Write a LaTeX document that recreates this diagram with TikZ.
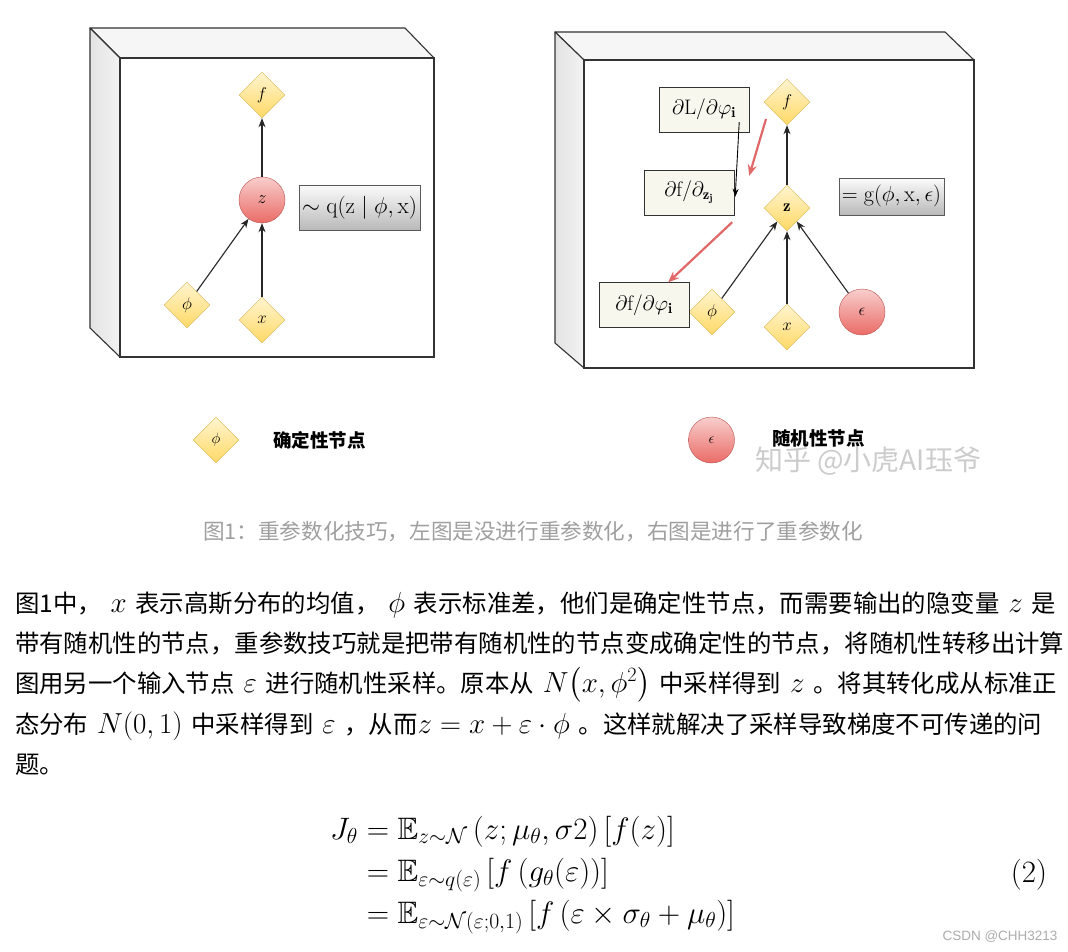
\RequirePackage{fix-cm}
\documentclass[tikz,border=0pt]{standalone}
\usepackage{amsmath,amssymb}
\usepackage{fontspec}
\newfontfamily\cjk{Noto Sans CJK SC}
\newfontfamily\latinsans{Liberation Sans}
\usetikzlibrary{shapes.geometric, positioning, arrows.meta, calc}

\definecolor{dettop}{HTML}{FFF4CF}
\definecolor{detbot}{HTML}{FFD966}
\definecolor{detline}{HTML}{D6B656}
\definecolor{randtop}{HTML}{F8CECC}
\definecolor{randbot}{HTML}{EA6B66}
\definecolor{randline}{HTML}{B85450}
\definecolor{gradfill}{HTML}{F8F7EE}
\definecolor{backred}{HTML}{E06868}
\definecolor{framecol}{HTML}{333333}

\newcommand{\zh}[1]{{\cjk\fontsize{24.4}{30}\selectfont #1}}

\begin{document}
\begin{tikzpicture}[
    x=1pt, y=-1pt,
    topface/.style={draw=framecol, fill=gray!7, line width=1.1pt, line join=round},
    sideface/.style={draw=framecol, left color=gray!22, right color=gray!10, line width=1.1pt, line join=round},
    frontface/.style={draw=framecol, fill=white, line width=1.1pt},
    detnode/.style={draw=detline, diamond, aspect=1, minimum width=46pt, minimum height=46pt, inner sep=0pt, top color=dettop, bottom color=detbot, font=\fontsize{17}{17}\selectfont},
    randnode/.style={draw=randline, circle, minimum size=46pt, inner sep=0pt, top color=randtop, bottom color=randbot, font=\fontsize{17}{17}\selectfont},
    distbox/.style={draw=gray!70!black, rectangle, inner sep=0pt, top color=gray!3, bottom color=gray!55},
    gradbox/.style={draw=black!80, rectangle, fill=gradfill, inner sep=0pt, minimum width=90pt, minimum height=45pt, font=\fontsize{21}{21}\selectfont},
    flow/.style={draw=black!85, line width=1.1pt, -{Stealth[length=9pt, width=7pt]}},
    thinflow/.style={draw=black, line width=0.9pt, -{Stealth[length=8pt, width=6pt]}},
    backflow/.style={draw=backred, line width=2.2pt, -{Stealth[length=11pt, width=9pt]}},
    para/.style={anchor=base west, inner sep=0pt, font=\fontsize{29}{30}\selectfont},
    eqline/.style={inner sep=0pt, font=\fontsize{31}{32}\selectfont}
]

    % ===============================
    % 0. CANVAS
    % ===============================
    \useasboundingbox (0,0) rectangle (1068,952);
    \fill[white] (0,0) rectangle (1068,952);

    % ===============================
    % 1. LEFT GRAPH (no reparameterization)
    % ===============================
    \draw[topface] (90,28) -- (405,28) -- (434,58) -- (120,58) -- cycle;
    \draw[sideface] (90,28) -- (120,58) -- (120,357) -- (90,328) -- cycle;
    \draw[frontface] (120,58) rectangle (434,357);

    \node[detnode] (f1) at (262,95) {$f$};
    \node[randnode, font=\fontsize{18}{18}\selectfont] (z1) at (262,200) {$z$};
    \node[detnode] (phi1) at (187,305) {$\phi$};
    \node[detnode] (x1) at (262,320) {$x$};
    \node[distbox, minimum width=121pt, minimum height=45pt, font=\fontsize{23}{23}\selectfont] (q1) at (359.5,207.5) {$\sim \mathrm{q}(\mathrm{z}\mid\phi,\mathrm{x})$};

    \draw[flow] (z1) -- (f1);
    \draw[flow] (phi1) -- (z1);
    \draw[flow] (x1) -- (z1);

    % ===============================
    % 2. RIGHT GRAPH (reparameterized)
    % ===============================
    \draw[topface] (555,32) -- (945,32) -- (974,60) -- (584,60) -- cycle;
    \draw[sideface] (555,32) -- (584,60) -- (584,368) -- (555,343) -- cycle;
    \draw[frontface] (584,60) rectangle (974,368);

    \node[detnode] (f2) at (787,102) {$f$};
    \node[detnode] (z2) at (787,208) {$\mathbf{z}$};
    \node[detnode] (phi2) at (712,312) {$\phi$};
    \node[detnode] (x2) at (787,327) {$x$};
    \node[randnode] (eps2) at (862,312) {$\epsilon$};
    \node[distbox, minimum width=105pt, minimum height=37pt, font=\fontsize{22}{22}\selectfont] (g2) at (891.5,196.5) {$=\mathrm{g}(\phi,\mathrm{x},\epsilon)$};

    \node[gradbox] (dL) at (704,109.5) {$\partial\mathrm{L}/\partial\varphi_{\mathbf{i}}$};
    \node[gradbox] (dfz) at (689,192.5) {$\partial\mathrm{f}/\partial_{\mathbf{z}_{\mathbf{j}}}$};
    \node[gradbox] (dfp) at (644,305) {$\partial\mathrm{f}/\partial\varphi_{\mathbf{i}}$};

    \draw[flow] (z2) -- (f2);
    \draw[flow] (phi2) -- (z2);
    \draw[flow] (x2) -- (z2);
    \draw[flow] (eps2) -- (z2);

    % gradient flow
    \draw[thinflow] ([shift={(-10,-10)}]dL.south east) -- ([shift={(1,27)}]dfz.north east);
    \draw[backflow] ([shift={(-21,17)}]f2.center) -- ([shift={(15,6)}]dfz.north east);
    \draw[backflow] ([shift={(-2,7)}]dfz.south east) -- ([shift={(-21,0)}]dfp.north east);

    % ===============================
    % 3. LEGEND
    % ===============================
    \node[detnode, font=\fontsize{15}{15}\selectfont] (legdet) at (216,440) {$\phi$};
    \node[anchor=west, inner sep=0pt, font=\cjk\bfseries\fontsize{18.5}{20}\selectfont] (legdettxt) at (273,440) {确定性节点};
    \node[randnode, font=\fontsize{15}{15}\selectfont] (legrand) at (711.5,440) {$\epsilon$};
    \node[anchor=west, inner sep=0pt, font=\cjk\bfseries\fontsize{18.5}{20}\selectfont] (legrandtxt) at (772,438) {随机性节点};
    \node[anchor=west, inner sep=0pt, text=gray!40, font=\cjk\fontsize{28}{29}\selectfont] (mark) at (755,461) {知乎 @小虎AI珏爷};

    % caption
    \node[anchor=west, inner sep=0pt, text=gray!75, font=\cjk\fontsize{21.6}{24}\selectfont] (caption) at (203,532) {图1：重参数化技巧，左图是没进行重参数化，右图是进行了重参数化};

    % ===============================
    % 4. TEXT
    % ===============================
    \node[para] (line1) at (15,612) {\zh{图1中，} $x$ \zh{表示高斯分布的均值，} $\phi$ \zh{表示标准差，他们是确定性节点，而需要输出的隐变量} $z$ \zh{是}};
    \node[para] (line2) at (15,652) {\zh{带有随机性的节点，重参数技巧就是把带有随机性的节点变成确定性的节点，将随机性转移出计算}};
    \node[para] (line3) at (15,692) {\zh{图用另一个输入节点} $\varepsilon$ \zh{进行随机性采样。原本从} $N\bigl(x,\phi^{2}\bigr)$ \zh{中采样得到} $z$ \zh{。将其转化成从标准正}};
    \node[para] (line4) at (15,733) {\zh{态分布} $N(0,1)$ \zh{中采样得到} $\varepsilon$ \zh{，从而}$z=x+\varepsilon\cdot\phi$ \zh{。这样就解决了采样导致梯度不可传递的问}};
    \node[para] (line5) at (15,773) {\zh{题。}};

    % equation (2)
    \node[eqline, anchor=base east] (jt) at (358,839) {$J_\theta$};
    \node[eqline, anchor=base west] (eq1) at (358,839) {$\displaystyle {}=\mathbb{E}_{z\sim\mathcal{N}}\left(z;\mu_\theta,\sigma 2\right)\left[f(z)\right]$};
    \node[eqline, anchor=base west] (eq2) at (358,881) {$\displaystyle {}=\mathbb{E}_{\varepsilon\sim q(\varepsilon)}\left[f\left(g_\theta(\varepsilon)\right)\right]$};
    \node[eqline, anchor=base west] (eq3) at (358,923) {$\displaystyle {}=\mathbb{E}_{\varepsilon\sim\mathcal{N}(\varepsilon;0,1)}\left[f\left(\varepsilon\times\sigma_\theta+\mu_\theta\right)\right]$};
    \node[eqline] (tag) at (1029,875) {$(2)$};

    \node[inner sep=0pt, text=gray!65, font=\latinsans\fontsize{13.5}{14}\selectfont] (csdn) at (1000,937) {CSDN @CHH3213};

\end{tikzpicture}
\end{document}
